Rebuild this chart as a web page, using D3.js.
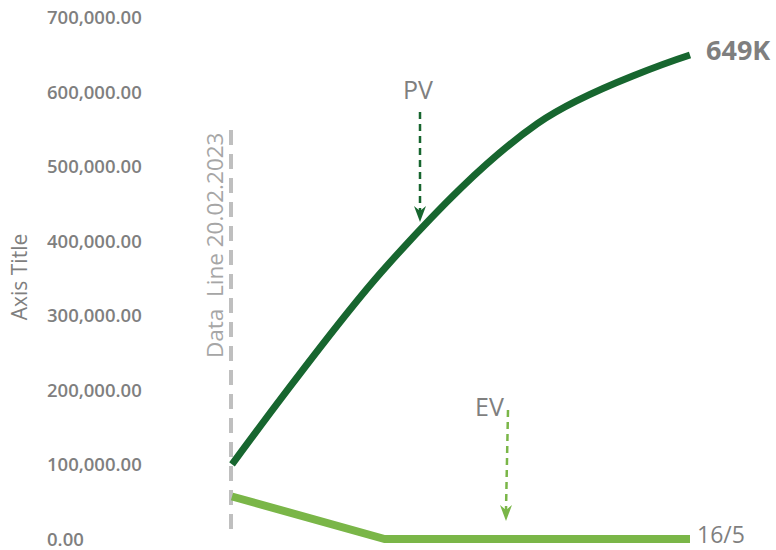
<!DOCTYPE html>
<html>
<head>
<meta charset="utf-8">
<script src="https://cdn.jsdelivr.net/npm/d3@7"></script>
<style>
  body { margin: 0; background: #fff; }
  text { font-family: "Open Sans", "Segoe UI", sans-serif; }
</style>
</head>
<body>
<div id="chart"></div>
<script>
// chart data
const categories = ["20/2", "18/3", "16/4", "16/5"];
const pvValues = [100000, 363000, 557000, 649000];
const evValues = [57000, 0, 0, 0];
const yTicks = [0, 100000, 200000, 300000, 400000, 500000, 600000, 700000];

const width = 776, height = 550;

const svg = d3.select("#chart")
  .append("svg")
  .attr("width", width)
  .attr("height", height);

const x = d3.scalePoint()
  .domain(categories)
  .range([232, 690]);

const y = d3.scaleLinear()
  .domain([0, 700000])
  .range([539, 17]);

const grey = "#7f7f7f";

// y axis labels (left aligned, no line)
const yAxis = d3.axisLeft(y)
  .tickValues(yTicks)
  .tickSize(0)
  .tickFormat(d3.format(",.2f"));

const gy = svg.append("g")
  .attr("transform", "translate(47,0)")
  .call(yAxis);
gy.select(".domain").remove();
gy.selectAll("text")
  .attr("x", 0)
  .attr("dy", "0.35em")
  .attr("text-anchor", "start")
  .style("font-size", "18.5px")
  .style("font-weight", "600")
  .style("fill", grey);

svg.append("text")
  .attr("transform", "translate(27,277) rotate(-90)")
  .attr("text-anchor", "middle")
  .style("font-size", "21px")
  .style("fill", grey)
  .text("Axis Title");

// data date line
svg.append("line")
  .attr("x1", x(categories[0]) - 1)
  .attr("x2", x(categories[0]) - 1)
  .attr("y1", 130)
  .attr("y2", 530)
  .style("stroke", "#bfbfbf")
  .style("stroke-width", 4)
  .style("stroke-dasharray", "15,9");

svg.append("text")
  .attr("transform", "translate(223,358) rotate(-90)")
  .attr("text-anchor", "start")
  .attr("xml:space", "preserve")
  .style("white-space", "pre")
  .style("font-size", "22.5px")
  .style("fill", "#a6a6a6")
  .text("Data  Line 20.02.2023");

// lines
const pvLine = d3.line()
  .x((d, i) => x(categories[i]))
  .y(d => y(d))
  .curve(d3.curveCardinal.tension(0));

const evLine = d3.line()
  .x((d, i) => x(categories[i]))
  .y(d => y(d));

svg.append("path")
  .datum(evValues)
  .attr("d", evLine)
  .style("fill", "none")
  .style("stroke", "#7ab648")
  .style("stroke-width", 8);

svg.append("path")
  .datum(pvValues)
  .attr("d", pvLine)
  .style("fill", "none")
  .style("stroke", "#17662f")
  .style("stroke-width", 7);

// end labels
const last = categories.length - 1;
svg.append("text")
  .attr("x", x(categories[last]) + 16)
  .attr("y", y(pvValues[last]) + 5)
  .style("font-size", "27px")
  .style("font-weight", "bold")
  .style("fill", grey)
  .text(d3.format(".3s")(pvValues[last]).replace("k", "K"));

svg.append("text")
  .attr("x", x(categories[last]) + 7)
  .attr("y", y(evValues[last]) + 4)
  .style("font-size", "23px")
  .style("fill", grey)
  .text(categories[last]);

// arrow annotations
svg.append("text")
  .attr("x", 403)
  .attr("y", 99)
  .style("font-size", "25px")
  .style("fill", grey)
  .text("PV");

svg.append("line")
  .attr("x1", 420).attr("y1", 112)
  .attr("x2", 420).attr("y2", 212)
  .style("stroke", "#17662f")
  .style("stroke-width", 2.5)
  .style("stroke-dasharray", "7,5");
svg.append("path")
  .attr("d", "M414,206 L420,211 L426,206 L420,222 Z")
  .style("fill", "#17662f");

svg.append("text")
  .attr("x", 475)
  .attr("y", 416)
  .style("font-size", "25px")
  .style("fill", grey)
  .text("EV");

svg.append("line")
  .attr("x1", 508).attr("y1", 410)
  .attr("x2", 506).attr("y2", 510)
  .style("stroke", "#7ab648")
  .style("stroke-width", 2.5)
  .style("stroke-dasharray", "7,5");
svg.append("path")
  .attr("d", "M500,505 L506,510 L512,505 L506,521 Z")
  .style("fill", "#7ab648");
</script>
</body>
</html>
